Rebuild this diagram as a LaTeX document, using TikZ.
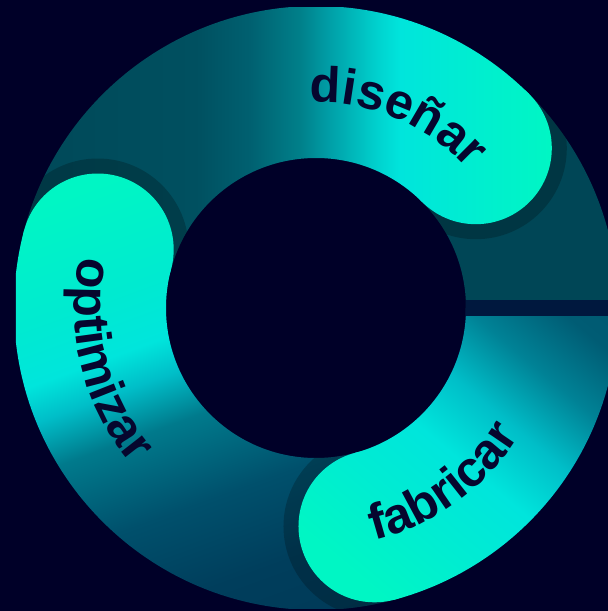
\documentclass[tikz,border=0pt]{standalone}
\usepackage{fontspec}
\setmainfont{Liberation Sans}
\usetikzlibrary{decorations.text}

\definecolor{bgnavy}{RGB}{0,0,40}
\definecolor{inknavy}{RGB}{6,6,46}
\definecolor{gapnavy}{RGB}{0,24,62}
\definecolor{ringteal}{RGB}{0,70,86}
\definecolor{mint}{RGB}{0,246,196}
\definecolor{aqua}{RGB}{0,229,220}
\definecolor{disA}{RGB}{0,72,88}
\definecolor{disB}{RGB}{0,80,96}
\definecolor{disC}{RGB}{0,96,112}
\definecolor{disD}{RGB}{0,128,138}
\definecolor{disE}{RGB}{0,160,168}
\definecolor{disF}{RGB}{0,212,208}
\definecolor{optB}{RGB}{0,234,208}
\definecolor{optD}{RGB}{0,190,200}
\definecolor{optE}{RGB}{0,122,140}
\definecolor{optF}{RGB}{0,80,108}
\definecolor{optG}{RGB}{0,62,92}
\definecolor{optH}{RGB}{0,58,88}
\definecolor{fabB}{RGB}{0,236,210}
\definecolor{fabD}{RGB}{0,190,200}
\definecolor{fabE}{RGB}{0,130,150}
\definecolor{fabF}{RGB}{0,92,116}
\definecolor{fabG}{RGB}{0,80,104}

\pgfdeclarehorizontalshading{disgrad}{100bp}{color(0bp)=(disA); color(25bp)=(disA);
  color(40bp)=(disB); color(44.5bp)=(disC); color(48.7bp)=(disD); color(51.2bp)=(disE);
  color(55.3bp)=(disF); color(57bp)=(aqua); color(69.5bp)=(mint); color(100bp)=(mint)}
\pgfdeclarehorizontalshading{optgrad}{100bp}{color(0bp)=(mint); color(34bp)=(mint);
  color(43bp)=(optB); color(48bp)=(aqua); color(51bp)=(optD); color(55bp)=(optE);
  color(62bp)=(optF); color(69bp)=(optG); color(75bp)=(optH); color(100bp)=(optH)}
\pgfdeclarehorizontalshading{fabgrad}{100bp}{color(0bp)=(mint); color(35bp)=(mint);
  color(42bp)=(fabB); color(48bp)=(aqua); color(53bp)=(fabD); color(58bp)=(fabE);
  color(63bp)=(fabF); color(75bp)=(fabG); color(100bp)=(fabG)}

\newcommand\lblfont{\fontsize{50}{60}\selectfont\bfseries}

\begin{document}
\begin{tikzpicture}[x=1pt, y=1pt,
  capshadow/.style={fill=black, fill opacity=0.22},
  seglbl/.style={decorate, decoration={text along path, text align=center,
                 text color=inknavy, text={|\lblfont|#1}}}
]
\useasboundingbox (-316,-303) rectangle (292,308);
\fill[bgnavy] (-316,-303) rectangle (292,308);

\begin{scope}
\clip (0,0) circle[radius=302] (150,0) arc[start angle=0, end angle=-360, radius=150] -- cycle;
% tails of the three segments
\begin{scope}
  \clip (0,0) -- (45:420) arc[start angle=45, end angle=165, radius=420] -- cycle;
  \shade[shading=disgrad] (-300,-300) rectangle (300,300);
\end{scope}
\fill[ringteal] (0,0) -- (0:420) arc[start angle=0, end angle=45, radius=420] -- cycle;
\begin{scope}
  \clip (0,0) -- (-75:420) arc[start angle=-75, end angle=0, radius=420] -- cycle;
  \shade[shading=fabgrad, shading angle=50] (-300,-300) rectangle (300,300);
\end{scope}
\begin{scope}
  \clip (0,0) -- (165:420) arc[start angle=165, end angle=285, radius=420] -- cycle;
  \shade[shading=optgrad, shading angle=-70] (-300,-300) rectangle (300,300);
\end{scope}
\fill[gapnavy] (140,-8) rectangle (310,8);
% shadows in front of the heads
\begin{scope}
  \clip (0,0) -- (-5:420) arc[start angle=-5, end angle=45, radius=420] -- cycle;
  \fill[capshadow] (45:226) circle[radius=91];
\end{scope}
\begin{scope}
  \clip (0,0) -- (-125:420) arc[start angle=-125, end angle=-75, radius=420] -- cycle;
  \fill[capshadow] (-75:226) circle[radius=91];
\end{scope}
\begin{scope}
  \clip (0,0) -- (115:420) arc[start angle=115, end angle=165, radius=420] -- cycle;
  \fill[capshadow] (165:226) circle[radius=91];
\end{scope}
% round heads
\begin{scope}
  \clip (45:226) circle[radius=76];
  \shade[shading=disgrad] (-300,-300) rectangle (300,300);
\end{scope}
\begin{scope}
  \clip (-75:226) circle[radius=76];
  \shade[shading=fabgrad, shading angle=50] (-300,-300) rectangle (300,300);
\end{scope}
\begin{scope}
  \clip (165:226) circle[radius=76];
  \shade[shading=optgrad, shading angle=-70] (-300,-300) rectangle (300,300);
\end{scope}
\end{scope}

% labels
\path[seglbl=diseñar] (117:206) arc[start angle=117, end angle=17, radius=206];
\path[seglbl=optimizar] (144:242) arc[start angle=144, end angle=244, radius=242];
\path[seglbl=fabricar] (-104:240) arc[start angle=-104, end angle=-4, radius=240];
\end{tikzpicture}
\end{document}
